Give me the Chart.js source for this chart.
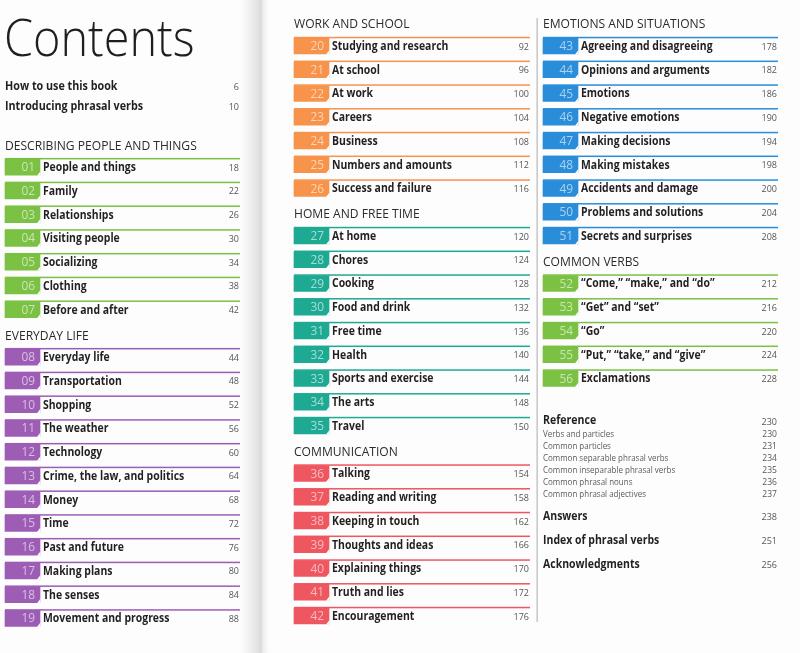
<!DOCTYPE html>
<html>
<head>
<meta charset="utf-8">
<title>Contents</title>
<script src="https://cdn.jsdelivr.net/npm/chart.js@4.4.1/dist/chart.umd.min.js"></script>
<style>
  html, body { margin: 0; padding: 0; background: #fdfdfd; overflow: hidden; }
  #wrap { position: relative; width: 800px; height: 653px; }
</style>
</head>
<body>
<div id="wrap"><canvas id="toc" width="800" height="653"></canvas></div>
<script>
// ---- data ----
const chapterTitles = [
  "People and things", "Family", "Relationships", "Visiting people", "Socializing", "Clothing", "Before and after",
  "Everyday life", "Transportation", "Shopping", "The weather", "Technology", "Crime, the law, and politics",
  "Money", "Time", "Past and future", "Making plans", "The senses", "Movement and progress",
  "Studying and research", "At school", "At work", "Careers", "Business", "Numbers and amounts", "Success and failure",
  "At home", "Chores", "Cooking", "Food and drink", "Free time", "Health", "Sports and exercise", "The arts", "Travel",
  "Talking", "Reading and writing", "Keeping in touch", "Thoughts and ideas", "Explaining things", "Truth and lies", "Encouragement",
  "Agreeing and disagreeing", "Opinions and arguments", "Emotions", "Negative emotions", "Making decisions",
  "Making mistakes", "Accidents and damage", "Problems and solutions", "Secrets and surprises",
  "\u201CCome,\u201D \u201Cmake,\u201D and \u201Cdo\u201D", "\u201CGet\u201D and \u201Cset\u201D", "\u201CGo\u201D",
  "\u201CPut,\u201D \u201Ctake,\u201D and \u201Cgive\u201D", "Exclamations"
];
const chapterPages = [
  18, 22, 26, 30, 34, 38, 42,
  44, 48, 52, 56, 60, 64, 68, 72, 76, 80, 84, 88,
  92, 96, 100, 104, 108, 112, 116,
  120, 124, 128, 132, 136, 140, 144, 148, 150,
  154, 158, 162, 166, 170, 172, 176,
  178, 182, 186, 190, 194, 198, 200, 204, 208,
  212, 216, 220, 224, 228
];
const sectionNames = [
  "DESCRIBING PEOPLE AND THINGS", "EVERYDAY LIFE", "WORK AND SCHOOL", "HOME AND FREE TIME",
  "COMMUNICATION", "EMOTIONS AND SITUATIONS", "COMMON VERBS"
];
const sectionSizes = [7, 12, 7, 9, 7, 9, 5];
const sectionColors = ["#7bc143", "#9d5db5", "#f7934a", "#1ea993", "#ee5660", "#2a8dd9", "#7bc143"];
const sectionColumn = [0, 0, 1, 1, 1, 2, 2];
const frontTitles = ["How to use this book", "Introducing phrasal verbs"];
const frontPages = [6, 10];
const refTitles = ["Verbs and particles", "Common particles", "Common separable phrasal verbs",
  "Common inseparable phrasal verbs", "Common phrasal nouns", "Common phrasal adjectives"];
const refPages = [230, 231, 234, 235, 236, 237];
const backTitles = ["Answers", "Index of phrasal verbs", "Acknowledgments"];
const backPages = [238, 251, 256];

// ---- layout ----
const SLOT = 23.75, Y0 = 22.25, H = 653;
const colLeft = [5, 294, 543];
const colRight = [240, 530, 778];
const colStart = [5.1, 0, 0];
const BOX = 35;
const FONT = '"Open Sans", "Noto Sans", sans-serif';

const rows = [];
const headings = [];
const nextSlot = colStart.slice();
let ch = 0;
sectionNames.forEach((name, s) => {
  const c = sectionColumn[s];
  headings.push({ name: name, col: c, slot: nextSlot[c]++ });
  for (let k = 0; k < sectionSizes[s]; k++, ch++) {
    rows.push({
      num: String(ch + 1).padStart(2, "0"),
      title: chapterTitles[ch],
      page: chapterPages[ch],
      color: sectionColors[s],
      col: c,
      slot: nextSlot[c]++
    });
  }
});

function txt(ctx, s, x, y, font, color, align, squeeze) {
  ctx.font = font;
  ctx.fillStyle = color;
  ctx.textAlign = align || "left";
  ctx.textBaseline = "middle";
  const w = ctx.measureText(s).width * (squeeze || 1);
  ctx.fillText(s, x, y, w);
}

const pageBackground = {
  id: "pageBackground",
  beforeDraw(chart) {
    const ctx = chart.ctx;
    ctx.save();
    ctx.fillStyle = "#fdfdfd";
    ctx.fillRect(0, 0, chart.width, chart.height);
    // gutter shadow between the two pages
    let g = ctx.createLinearGradient(240, 0, 262, 0);
    g.addColorStop(0, "rgba(225,225,225,0)");
    g.addColorStop(1, "rgba(218,218,218,1)");
    ctx.fillStyle = g;
    ctx.fillRect(240, 0, 22, chart.height);
    g = ctx.createLinearGradient(262, 0, 272, 0);
    g.addColorStop(0, "rgba(232,232,232,1)");
    g.addColorStop(1, "rgba(253,253,253,0)");
    ctx.fillStyle = g;
    ctx.fillRect(262, 0, 10, chart.height);
    // divider between the right-hand columns
    ctx.fillStyle = "#bdbdbd";
    ctx.fillRect(536.5, 18, 1.3, 604);
    ctx.restore();
  }
};

const pageText = {
  id: "pageText",
  afterDatasetsDraw(chart) {
    const ctx = chart.ctx;
    const y = chart.scales.y;
    const els = chart.getDatasetMeta(0).data;
    ctx.save();

    // title block
    txt(ctx, "Contents", 4, 41, "300 52px " + FONT, "#1e1e1e", "left", 0.9);
    const fy = y.getPixelForValue(colStart[0] - 2);
    frontTitles.forEach((t, i) => {
      const yy = fy - 9 + i * 20;
      txt(ctx, t, 5, yy, "bold 12.5px " + FONT, "#231f20", "left", 0.86);
      txt(ctx, String(frontPages[i]), 239, yy + 1, "9px " + FONT, "#555", "right");
    });

    // section headings
    headings.forEach(h => {
      txt(ctx, h.name, colLeft[h.col], y.getPixelForValue(h.slot) + 2.5, "13px " + FONT, "#2b2b2b", "left", 0.93);
    });

    // chapter rows
    els.forEach((el, i) => {
      const r = rows[i];
      const p = el.getProps(["x", "y", "base", "height"], true);
      const top = p.y - p.height / 2;
      const bottom = p.y + p.height / 2;
      // notch on the tab corner
      ctx.fillStyle = "#fdfdfd";
      ctx.beginPath();
      ctx.moveTo(p.x + 0.5, bottom + 0.5);
      ctx.lineTo(p.x + 0.5, bottom - 4);
      ctx.lineTo(p.x - 3, bottom + 0.5);
      ctx.closePath();
      ctx.fill();
      // rule above the row
      ctx.fillStyle = r.color;
      ctx.fillRect(p.base, top - 1.2, colRight[r.col] - p.base, 1.5);
      txt(ctx, r.num, p.base + 30, p.y + 0.5, "12.5px " + FONT, "rgba(255,255,255,0.6)", "right", 0.95);
      txt(ctx, r.title, p.x + 3, p.y + 0.5, "bold 12px " + FONT, "#231f20", "left", 0.87);
      txt(ctx, String(r.page), colRight[r.col] - 1, p.y + 1, "9px " + FONT, "#555", "right");
    });

    // reference block and back matter
    const rx = colLeft[2], rr = colRight[2] - 1;
    const ry = y.getPixelForValue(17) - 5;
    txt(ctx, "Reference", rx, ry, "bold 12px " + FONT, "#231f20", "left", 0.88);
    txt(ctx, "230", rr, ry + 1, "9px " + FONT, "#555", "right");
    refTitles.forEach((t, i) => {
      const yy = ry + 13 + i * 12;
      txt(ctx, t, rx, yy, "9.5px " + FONT, "#5a5a5a", "left", 0.84);
      txt(ctx, String(refPages[i]), rr, yy, "9.5px " + FONT, "#555", "right", 0.9);
    });
    backTitles.forEach((t, i) => {
      const yy = y.getPixelForValue(21 + i) - 4.5;
      txt(ctx, t, rx, yy, "bold 12.5px " + FONT, "#231f20", "left", 0.84);
      txt(ctx, String(backPages[i]), rr, yy + 1, "9px " + FONT, "#555", "right");
    });
    ctx.restore();
  }
};

new Chart(document.getElementById("toc"), {
  type: "bar",
  data: {
    datasets: [{
      data: rows.map(r => ({ x: [colLeft[r.col], colLeft[r.col] + BOX], y: r.slot })),
      backgroundColor: rows.map(r => r.color),
      borderWidth: 0,
      barThickness: 16,
      borderSkipped: false
    }]
  },
  options: {
    indexAxis: "y",
    responsive: false,
    animation: false,
    events: [],
    layout: { padding: 0 },
    plugins: { legend: { display: false }, tooltip: { enabled: false } },
    scales: {
      x: { type: "linear", min: 0, max: 800, offset: false, display: false },
      y: { type: "linear", reverse: true, offset: false, grace: 0, min: -Y0 / SLOT, max: (H - Y0) / SLOT, display: false }
    }
  },
  plugins: [pageBackground, pageText]
});
</script>
</body>
</html>
